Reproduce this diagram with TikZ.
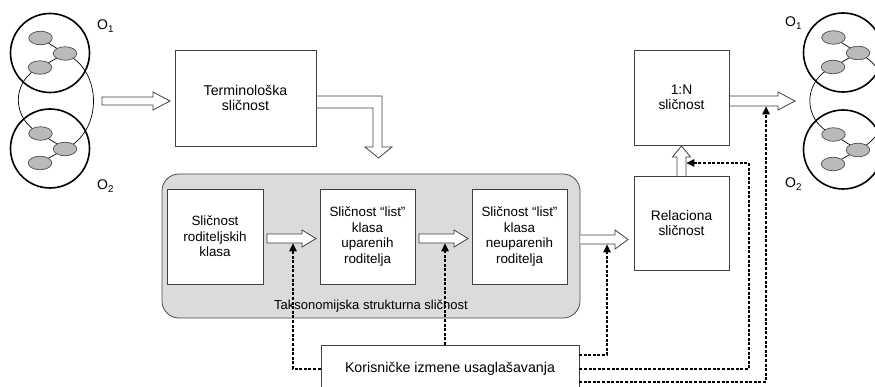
\documentclass[tikz,border=0pt]{standalone}
\usepackage{fontspec}
\setmainfont{Liberation Sans}
\usetikzlibrary{arrows.meta,calc,shapes.geometric}
\begin{document}
\begin{tikzpicture}[x=1pt,y=-1pt,
  box/.style={draw=black!75, line width=0.8pt, fill=white, inner sep=0pt, align=center, font=\fontsize{13.4}{15.4}\selectfont},
  hollow/.style={draw=black!75, line width=0.8pt, fill=white, line join=miter},
  dsh/.style={draw=black, line width=1.4pt, dash pattern=on 3pt off 1.6pt, -{Triangle[length=8pt,width=7.5pt]}},
  ring/.style={draw=black, line width=1.6pt},
  cls/.style={ellipse, draw=black!70, fill=black!27, line width=0.7pt, minimum width=23.5pt, minimum height=13.5pt, inner sep=0pt},
  lnk/.style={draw=black, line width=0.7pt},
  olab/.style={font=\fontsize{14}{16}\selectfont, inner sep=0pt, anchor=base west}
]
\useasboundingbox (0,0) rectangle (875,387);
\clip (0,0) rectangle (875,387);

% ---------- ontology clusters ----------
\newcommand{\clusterat}[3]{%
  \coordinate (#1a) at (#2-9.5,#3-15);
  \coordinate (#1b) at (#2+15,#3+0.5);
  \coordinate (#1c) at (#2-10,#3+14.5);
  \draw[lnk] (#1a) -- (#1b) -- (#1c);
  \draw[ring] (#2,#3) circle[radius=39.5pt];
}
\newcommand{\ellipsesat}[1]{%
  \node[cls] (#1ae) at (#1a) {};
  \node[cls] (#1be) at (#1b) {};
  \node[cls] (#1ce) at (#1c) {};
}
\clusterat{LT}{50}{53}
\clusterat{LB}{50}{148.5}
\clusterat{RT}{843}{52.5}
\clusterat{RB}{843}{149.5}
\draw[lnk] (LTc) .. controls (11,80) and (11,120) .. (LBa);
\draw[lnk] (LTb) .. controls (103,70) and (103,132) .. (LBb);
\draw[lnk] (RTc) .. controls (802,80) and (802,122) .. (RBa);
\draw[lnk] (RTb) .. controls (897,70) and (897,132) .. (RBb);
\ellipsesat{LT}
\ellipsesat{LB}
\ellipsesat{RT}
\ellipsesat{RB}

\node[olab] (o1l) at (97,30) {O\textsubscript{1}};
\node[olab] (o2l) at (97,190) {O\textsubscript{2}};
\node[olab] (o1r) at (785,27) {O\textsubscript{1}};
\node[olab] (o2r) at (785,188) {O\textsubscript{2}};

% ---------- grey container ----------
\node[draw=black!70, fill=black!14, rounded corners=17pt, line width=0.8pt,
      minimum width=418pt, minimum height=144pt, inner sep=0pt] (taks) at (371,246) {};
\node[font=\fontsize{13}{15}\selectfont, inner sep=0pt] (taksl) at (371,306) {Taksonomijska strukturna sličnost};

% ---------- hollow block arrows ----------
\newcommand{\hollowright}[6]{%
  \draw[hollow] (#1,#3-#4) -- (#2-#6,#3-#4) -- (#2-#6,#3-#5) -- (#2,#3)
     -- (#2-#6,#3+#5) -- (#2-#6,#3+#4) -- (#1,#3+#4) -- cycle;}
\hollowright{102}{170}{101}{4}{9}{17}
\hollowright{267}{316}{238.5}{4.5}{8.5}{14}
\hollowright{419}{468}{238.5}{4.5}{8.5}{14}
\draw[hollow] (580.4,235) -- (615,235) -- (615,230) -- (628,239.5) -- (615,249) -- (615,244) -- (580.4,244);
\draw[hollow] (729,96) -- (778,96) -- (778,92) -- (795,101) -- (778,110) -- (778,106) -- (729,106);
\draw[hollow] (316,96) -- (382,96) -- (382,147) -- (392,147) -- (378.5,158) -- (365,147) -- (373,147) -- (373,108) -- (316,108);
\draw[hollow] (677,176) -- (677,157) -- (672.5,157) -- (681.5,146) -- (690.5,157) -- (686,157) -- (686,176);

% ---------- boxes ----------
\node[box, minimum width=141pt, minimum height=96pt, font=\fontsize{14.2}{15.8}\selectfont] (term) at (245.5,98) {Terminološka\\sličnost};
\node[box, minimum width=95pt, minimum height=95pt, font=\fontsize{13.8}{15.6}\selectfont] (onen) at (681.5,97.5) {1:N\\sličnost};
\node[box, minimum width=95pt, minimum height=94pt, font=\fontsize{13.8}{15.6}\selectfont] (rel) at (681.5,223) {Relaciona\\sličnost};
\node[box, minimum width=96pt, minimum height=95pt] (pa) at (215,236.5) {Sličnost\\roditeljskih\\klasa};
\node[box, minimum width=95pt, minimum height=95pt] (pb) at (367.5,236.5) {Sličnost “list”\\klasa\\uparenih\\roditelja};
\node[box, minimum width=95pt, minimum height=95pt] (pc) at (519.5,236.5) {Sličnost “list”\\klasa\\neuparenih\\roditelja};
\node[box, minimum width=258pt, minimum height=48pt, font=\fontsize{14.2}{16}\selectfont] (kor) at (450,369) {Korisničke izmene usaglašavanja};

% ---------- dashed feedback arrows ----------
\coordinate (d1e) at (293,243.4);
\coordinate (d2s) at (445,345);
\coordinate (d2e) at (445,243.4);
\coordinate (d3s) at (579,355);
\coordinate (d3e) at (607,244.4);
\coordinate (d4c) at (749,163);
\coordinate (d4e) at (686.4,163);
\coordinate (d5s) at (579,382);
\coordinate (d5e) at (766,106.4);
\draw[dsh] (kor.west) -| (d1e);
\draw[dsh] (d2s) -- (d2e);
\draw[dsh] (d3s) -| (d3e);
\draw[dsh] (kor.east) -| (d4c) -- (d4e);
\draw[dsh] (d5s) -| (d5e);
\end{tikzpicture}
\end{document}
